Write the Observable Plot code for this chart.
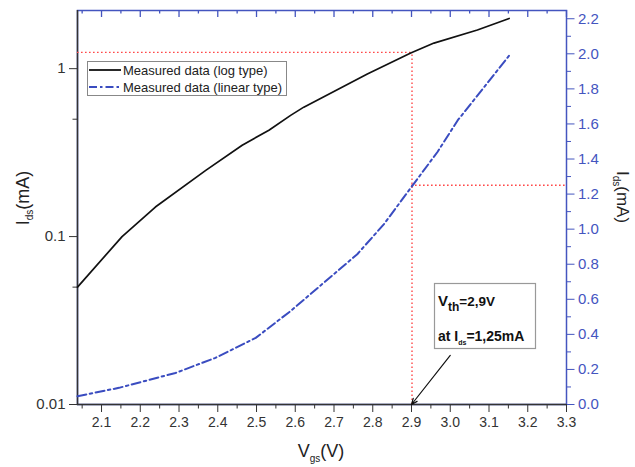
<!DOCTYPE html>
<html><head><meta charset="utf-8">
<script src="https://cdn.jsdelivr.net/npm/d3@7"></script>
<script src="https://cdn.jsdelivr.net/npm/@observablehq/plot@0.6"></script>
<style>
html,body{margin:0;padding:0;background:#fff;overflow:hidden;}
#chart{position:relative;width:635px;height:467px;}
#chart svg{position:absolute;left:0;top:0;}
</style></head><body><div id="chart"></div>
<script>
// ---- data ----
const vgsLog = [2.038, 2.153, 2.239, 2.369, 2.463, 2.532, 2.588, 2.622, 2.786, 2.898, 2.958, 3.070, 3.152];
const idsLog = [0.050, 0.100, 0.150, 0.248, 0.350, 0.430, 0.527, 0.590, 0.930, 1.240, 1.420, 1.700, 1.990];
const vgsLin = [2.038, 2.145, 2.291, 2.394, 2.498, 2.588, 2.674, 2.760, 2.829, 2.902, 2.967, 3.019, 3.152];
const idsLin = [0.047, 0.095, 0.180, 0.266, 0.380, 0.533, 0.695, 0.857, 1.029, 1.247, 1.440, 1.620, 1.990];
const xTicks = [2.1, 2.2, 2.3, 2.4, 2.5, 2.6, 2.7, 2.8, 2.9, 3.0, 3.1, 3.2, 3.3];
const xMinor = [2.05, 2.15, 2.25, 2.35, 2.45, 2.55, 2.65, 2.75, 2.85, 2.95, 3.05, 3.15, 3.25];
const yLogTicks = [0.01, 0.1, 1];
const yLogMinor = [0.05, 0.5];
const yLinTicks = [0, 0.2, 0.4, 0.6, 0.8, 1.0, 1.2, 1.4, 1.6, 1.8, 2.0, 2.2];
const yLinMinor = [0.1, 0.3, 0.5, 0.7, 0.9, 1.1, 1.3, 1.5, 1.7, 1.9, 2.1];
const vth = 2.9, ith = 1.25;
const arrowFrom = {x: 3.0, y: 0.28};
const xDomain = [2.038, 3.3];
const yLogDomain = [0.01, 2.22];
const yLinDomain = [0, 2.247];
const legendLabels = ["Measured data (log type)", "Measured data (linear type)"];

// ---- layout & style ----
const W = 635, H = 467, mt = 10, mr = 69, mb = 63, ml = 77;
const innerH = H - mt - mb;
const font = "'Liberation Sans', Arial, sans-serif";
const gray = "#333", blue = "#4455bf", lineBlue = "#3a4cc0", red = "#ff4848";
const dashDot = "9,3.5,2.5,3.5";
const dotted = "1.6,2.4";

const logData = vgsLog.map((v, i) => ({v, i: idsLog[i]}));
const linData = vgsLin.map((v, i) => ({v, i: idsLin[i]}));

const common = {
  width: W, height: H, marginTop: mt, marginRight: mr, marginBottom: mb, marginLeft: ml,
  style: {fontFamily: font, background: "transparent", overflow: "visible"}
};

const p1 = Plot.plot({
  ...common,
  x: {domain: xDomain},
  y: {type: "log", domain: yLogDomain},
  marks: [
    Plot.frame({stroke: blue, strokeWidth: 1.5}),
    Plot.ruleX([xDomain[0]], {stroke: gray, strokeWidth: 1.5}),
    Plot.ruleY([yLogDomain[0]], {stroke: gray, strokeWidth: 1.5}),
    Plot.axisX({ticks: xTicks, tickFormat: d => d.toFixed(1), tickSize: 8, tickPadding: 5, fontSize: 14, color: gray, label: null}),
    Plot.axisX({ticks: xMinor, tickSize: 4.5, stroke: gray, fill: "none", label: null}),
    Plot.axisY({ticks: yLogTicks, tickFormat: d => String(d), tickSize: 8, tickPadding: 4, fontSize: 15, color: gray, label: null}),
    Plot.axisY({ticks: yLogMinor, tickSize: 4.5, stroke: gray, fill: "none", label: null}),
    Plot.tickX(xTicks, {x: d => d, stroke: blue, strokeWidth: 1.3, insetBottom: innerH - 7}),
    Plot.tickX(xMinor, {x: d => d, stroke: blue, strokeWidth: 1.3, insetBottom: innerH - 3.5}),
    Plot.ruleY([ith], {x1: xDomain[0], x2: vth, stroke: red, strokeWidth: 1.4, strokeDasharray: dotted}),
    Plot.ruleX([vth], {y1: yLogDomain[0], y2: ith, stroke: red, strokeWidth: 1.4, strokeDasharray: dotted, dx: 0.5}),
    Plot.line(logData, {x: "v", y: "i", stroke: "#111", strokeWidth: 1.7, curve: "linear"})
  ]
});

const p2 = Plot.plot({
  ...common,
  x: {domain: xDomain, axis: null},
  y: {domain: yLinDomain, axis: null},
  marks: [
    Plot.axisY({anchor: "right", ticks: yLinTicks, tickFormat: d => d.toFixed(1), tickSize: 7.5, tickPadding: 4, fontSize: 15, color: blue, label: null}),
    Plot.axisY({anchor: "right", ticks: yLinMinor, tickSize: 4, stroke: blue, fill: "none", label: null}),
    Plot.ruleY([ith], {x1: vth, x2: xDomain[1], stroke: red, strokeWidth: 1.4, strokeDasharray: dotted}),
    Plot.line(linData, {x: "v", y: "i", stroke: lineBlue, strokeWidth: 2, strokeDasharray: dashDot, curve: "linear"}),
    Plot.arrow([arrowFrom], {x1: "x", y1: "y", x2: () => vth, y2: () => yLinDomain[0], stroke: "#111", strokeWidth: 1.2, headLength: 8, headAngle: 45})
  ]
});

const chart = document.getElementById("chart");
chart.append(p1, p2);

// ---- labels, legend, annotation ----
const svg = d3.select(p2);
const g = svg.append("g").attr("font-family", font);
function addText(x, y, parts, {rotate = 0, anchor = "start", weight = "normal", fill = "#222"} = {}) {
  const t = g.append("text").attr("transform", `translate(${x},${y}) rotate(${rotate})`)
    .attr("text-anchor", anchor).attr("font-weight", weight).attr("fill", fill);
  let base = 0;
  for (const p of parts) {
    const s = p.shift || 0;
    t.append("tspan").attr("font-size", p.size).attr("dy", s - base).text(p.t);
    base = s;
  }
}
// axis titles
addText(29, 198, [{t: "I", size: 18}, {t: "ds", size: 10, shift: 4}, {t: "(mA)", size: 18}], {rotate: -90, anchor: "middle"});
addText(321, 457, [{t: "V", size: 18}, {t: "gs", size: 10, shift: 5}, {t: "(V)", size: 18}], {anchor: "middle"});
addText(617, 197, [{t: "I", size: 17}, {t: "ds", size: 10, shift: 4}, {t: "(mA)", size: 17}], {rotate: 90, anchor: "middle"});

// legend
g.append("rect").attr("x", 87.5).attr("y", 61.5).attr("width", 199).attr("height", 34)
  .attr("fill", "#fff").attr("stroke", "#888").attr("stroke-width", 1);
g.append("line").attr("x1", 89).attr("x2", 121).attr("y1", 70).attr("y2", 70).attr("stroke", "#111").attr("stroke-width", 1.8);
g.append("line").attr("x1", 89).attr("x2", 121).attr("y1", 87).attr("y2", 87).attr("stroke", lineBlue).attr("stroke-width", 2).attr("stroke-dasharray", "8,3,2.5,3");
addText(123, 74.5, [{t: legendLabels[0], size: 13}]);
addText(123, 91.5, [{t: legendLabels[1], size: 13}]);

// annotation box
g.append("rect").attr("x", 434.5).attr("y", 283.5).attr("width", 101).attr("height", 65)
  .attr("fill", "#fff").attr("stroke", "#999").attr("stroke-width", 1.2);
addText(438, 306, [{t: "V", size: 15}, {t: "th", size: 12, shift: 5}, {t: "=2,9V", size: 13.5}], {weight: "bold", fill: "#111"});
addText(438, 341, [{t: "at I", size: 14}, {t: "ds", size: 7, shift: 4}, {t: "=1,25mA", size: 14}], {weight: "bold", fill: "#111"});
</script></body></html>
